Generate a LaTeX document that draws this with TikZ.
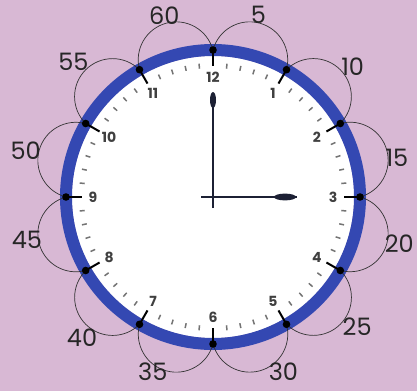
\documentclass[tikz,border=0pt]{standalone}
\usepackage{fontspec}
\setmainfont{Poppins}
\usetikzlibrary{calc}

\definecolor{lilac}{RGB}{216,184,212}
\definecolor{ringblue}{RGB}{52,72,178}
\definecolor{handnavy}{RGB}{28,32,52}

\tikzset{
  loop/.style={draw=black!80,line width=0.7pt},
  hand/.style={draw=handnavy,line width=2.3pt},
  mintick/.style={draw=black!55,line width=1.5pt},
  hourtick/.style={draw=black,line width=2pt},
  count/.style={font=\fontsize{24}{27}\selectfont,text=black!85,inner sep=0pt},
  face/.style={font=\fontsize{14}{16}\selectfont\bfseries,text=black!75,inner sep=0pt}
}

\begin{document}
\begin{tikzpicture}[x=1pt,y=1pt]
  \fill[lilac] (-213,-194) rectangle (204,197);
  \useasboundingbox (-213,-194) rectangle (204,197);

  \coordinate (O) at (0,0);
  % dial
  \fill[white] (O) circle (141);
  \draw[ringblue,line width=12pt] (O) circle (147);

  % minute ticks
  \foreach \m in {0,...,59}{
    \pgfmathtruncatemacro\r{mod(\m,5)}
    \ifnum\r>0
      \draw[mintick] (90-6*\m:129) -- (90-6*\m:134);
    \fi
  }

  % hour points and numbers
  \foreach \h in {1,...,12}{
    \coordinate (d\h) at (90-30*\h:147);
    \draw[hourtick] (d\h) -- (90-30*\h:131);
    \node[face] (n\h) at (90-30*\h:120) {\h};
  }

  % loops between hours
  \foreach \h in {1,...,12}{
    \pgfmathsetmacro\a{90-30*\h+30}
    \draw[loop] (90-30*\h+30:147) arc[start angle=\a+75,end angle=\a-105,radius=38];
  }
  \foreach \h in {1,...,12}
    \fill (d\h) circle (3.8);

  % minutes counted
  \foreach \a/\r/\t in {76/188/5,43/191/10,12/188/15,-14/192/20,-42/194/25,-68/188/30,
                        -109/185/35,-133/192/40,-167/191/45,166/193/50,136/194/55,105/188/60}
    \node[count] at (\a:\r) {\t};

  % hands
  \coordinate (m) at (0,104);
  \coordinate (k) at (84,0);
  \draw[hand] (0,-11) -- (m);
  \draw[hand] (-12,0) -- (k);
  \fill[handnavy] (0,97) ellipse (3 and 8);
  \fill[handnavy] (72,0) ellipse (11 and 3.4);
\end{tikzpicture}
\end{document}
